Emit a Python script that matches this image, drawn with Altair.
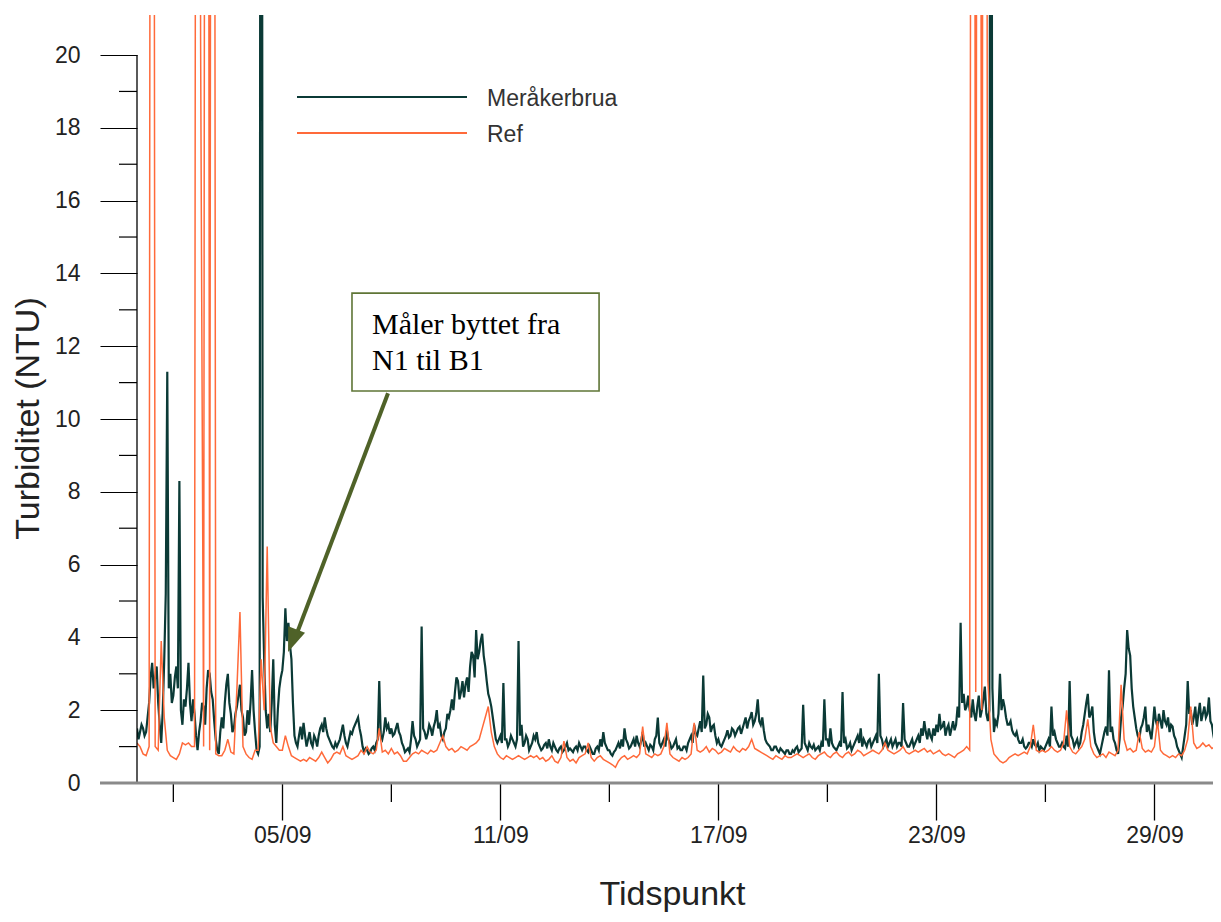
import altair as alt
import pandas as pd

# ---- data: turbidity (NTU) read from 1 Sep 00:00 ----
# Meråkerbrua at even hours (00, 02, ... 22), 12 per day
meraker_even = [
    1.5, 1.4, 1.5, 1.4, 2.2, 3.3, 2.9, 2.2, 1.1, 3.4, 11.3, 3.0,      # 01/09
    2.4, 3.2, 8.3, 1.6, 2.1, 3.3, 1.7, 1.9, 0.9, 1.7, 2.1, 2.6,       # 02/09
    3.0, 2.3, 1.2, 0.8, 1.8, 2.2, 3.0, 1.9, 1.5, 2.1, 2.7, 1.8,       # 03/09
    1.4, 1.6, 3.1, 1.4, 0.8, 60, 3.4, 1.5, 1.4, 3.4, 1.1, 2.6,        # 04/09
    3.1, 4.8, 4.4, 3.4, 1.3, 1.0, 1.55, 1.65, 1.0, 1.4, 1.0, 1.2,     # 05/09
    1.3, 1.6, 1.8, 1.3, 1.1, 0.95, 1.0, 1.2, 1.6, 1.1, 1.2, 1.35,     # 06/09
    1.6, 1.8, 1.3, 0.85, 0.9, 0.85, 1.0, 1.1, 2.8, 1.2, 1.8, 1.6,     # 07/09
    1.5, 1.35, 1.65, 1.3, 1.0, 0.9, 0.85, 1.7, 1.2, 1.1, 4.3, 1.4,    # 08/09
    1.35, 1.5, 1.55, 2.0, 1.6, 1.2, 1.5, 1.8, 2.3, 2.5, 2.8, 2.5,     # 09/09
    2.35, 2.9, 3.2, 3.5, 4.2, 3.6, 4.1, 3.2, 2.45, 2.1, 1.5, 1.1,     # 10/09
    1.3, 2.75, 1.2, 1.1, 1.2, 1.0, 3.9, 1.6, 1.1, 1.2, 1.0, 1.3,      # 11/09
    1.4, 1.0, 0.95, 1.1, 1.2, 0.9, 1.0, 0.85, 1.0, 0.9, 1.1, 0.95,    # 12/09
    0.85, 1.0, 1.1, 0.9, 1.0, 0.85, 0.9, 0.8, 1.0, 1.2, 1.4, 1.0,     # 13/09
    0.9, 0.75, 0.9, 1.1, 1.2, 1.5, 1.1, 1.0, 1.2, 1.3, 1.0, 1.4,      # 14/09
    1.1, 0.9, 1.0, 1.2, 1.8, 1.0, 1.2, 1.45, 1.1, 1.0, 1.2, 1.0,      # 15/09
    0.9, 1.0, 1.1, 1.3, 1.6, 1.3, 1.7, 2.95, 1.6, 1.8, 1.55, 1.3,     # 16/09
    1.2, 1.0, 1.2, 1.45, 1.3, 1.45, 1.4, 1.55, 1.5, 1.8, 1.7, 1.95,   # 17/09
    1.7, 2.3, 1.6, 1.45, 1.1, 1.0, 0.9, 1.0, 0.85, 0.9, 0.8, 0.9,     # 18/09
    0.8, 0.85, 1.0, 0.9, 2.15, 1.0, 1.1, 0.95, 0.9, 1.0, 1.1, 2.3,    # 19/09
    1.2, 1.5, 1.0, 0.9, 1.1, 2.5, 1.2, 1.0, 0.9, 1.1, 1.3, 1.5,       # 20/09
    1.2, 1.0, 1.2, 1.1, 1.3, 3.0, 1.2, 1.1, 1.0, 1.2, 1.1, 1.0,       # 21/09
    1.1, 2.2, 1.1, 1.0, 1.2, 1.1, 1.3, 1.5, 1.7, 1.2, 1.3, 1.5,       # 22/09
    1.6, 1.9, 1.55, 1.3, 1.6, 1.5, 1.45, 2.1, 4.4, 2.45, 2.1, 2.0,    # 23/09
    2.3, 1.7, 2.4, 2.0, 2.65, 1.7, 60, 1.4, 1.6, 3.0, 2.3, 1.8,       # 24/09
    1.6, 1.45, 1.3, 1.2, 1.1, 1.0, 1.0, 1.1, 1.2, 1.0, 0.9, 0.95,     # 25/09
    1.0, 1.2, 2.1, 1.4, 1.1, 1.0, 1.0, 1.3, 2.8, 1.2, 1.1, 1.0,       # 26/09
    1.4, 1.9, 2.45, 1.9, 1.4, 1.0, 0.8, 1.2, 1.55, 3.1, 1.55, 1.1,    # 27/09
    0.8, 1.8, 2.6, 4.2, 3.5, 2.1, 1.5, 1.2, 1.6, 2.1, 1.6, 1.2,       # 28/09
    2.1, 1.55, 1.7, 2.0, 1.6, 1.4, 1.55, 1.2, 0.9, 0.7, 1.3, 2.8,     # 29/09
    2.0, 1.8, 1.55, 2.2, 1.9, 1.8, 2.35, 1.6, 1.1, 1.7, 1.9,          # 30/09
]
# Meråkerbrua at odd hours (01, 03, ... 23)
meraker_odd = [
    1.2, 1.6, 1.3, 1.8, 2.9, 2.6, 3.2, 1.6, 2.0, 5.2, 2.6, 2.2,       # 01/09
    2.9, 2.6, 2.0, 2.3, 2.6, 2.2, 2.3, 1.3, 1.4, 2.2, 1.6, 3.1,       # 02/09
    2.5, 1.7, 0.9, 1.4, 1.5, 2.7, 2.2, 1.4, 1.9, 2.4, 2.0, 1.3,       # 03/09
    2.0, 2.2, 2.0, 0.9, 1.0, 5.1, 2.0, 1.9, 2.2, 1.6, 2.0, 2.9,       # 04/09
    3.6, 3.9, 3.8, 2.2, 1.1, 1.3, 1.2, 1.3, 1.2, 1.1, 1.3, 1.0,       # 05/09
    1.5, 1.4, 1.5, 1.2, 1.0, 1.1, 1.1, 1.4, 1.3, 1.0, 1.4, 1.5,       # 06/09
    1.7, 1.5, 1.0, 0.95, 0.8, 0.95, 0.9, 1.2, 1.3, 1.4, 1.5, 1.35,    # 07/09
    1.3, 1.5, 1.4, 1.1, 0.85, 0.95, 1.2, 1.3, 1.0, 1.2, 1.5, 1.2,     # 08/09
    1.6, 1.3, 1.7, 1.5, 1.3, 1.4, 1.9, 2.0, 2.0, 2.9, 2.3, 2.8,       # 09/09
    2.7, 2.5, 3.6, 2.9, 3.4, 3.9, 3.5, 2.8, 2.3, 1.8, 1.2, 1.2,       # 10/09
    1.1, 1.2, 1.0, 1.3, 1.1, 1.2, 1.3, 1.0, 1.3, 0.9, 1.1, 1.2,       # 11/09
    1.1, 0.9, 1.05, 0.95, 1.0, 1.1, 0.9, 0.95, 0.85, 1.0, 0.9, 0.9,   # 12/09
    0.95, 0.9, 1.0, 1.0, 0.9, 1.0, 0.8, 0.95, 0.9, 1.0, 1.1, 0.9,     # 13/09
    0.8, 0.85, 1.0, 0.95, 1.0, 1.2, 0.95, 1.1, 1.0, 1.1, 1.15, 1.0,   # 14/09
    1.0, 1.05, 0.9, 1.3, 1.1, 1.1, 1.0, 1.2, 0.95, 1.1, 0.95, 0.9,    # 15/09
    1.0, 0.9, 1.2, 1.1, 1.35, 1.5, 1.4, 1.5, 1.9, 1.4, 1.6, 1.1,      # 16/09
    1.05, 1.1, 1.3, 1.25, 1.5, 1.3, 1.5, 1.35, 1.65, 1.5, 1.8, 1.6,   # 17/09
    1.9, 1.7, 1.8, 1.2, 1.05, 0.9, 1.0, 0.9, 0.95, 0.85, 0.9, 0.8,    # 18/09
    0.9, 0.95, 0.85, 0.95, 1.1, 0.9, 1.0, 1.05, 0.95, 0.9, 1.0, 1.2,  # 19/09
    1.0, 1.1, 0.95, 1.0, 1.0, 1.1, 0.95, 1.1, 1.0, 1.2, 1.1, 1.0,     # 20/09
    1.1, 1.15, 1.0, 1.2, 1.1, 1.3, 1.0, 1.2, 1.1, 1.0, 1.2, 1.1,      # 21/09
    1.0, 1.2, 1.0, 1.1, 1.0, 1.2, 1.1, 1.3, 1.4, 1.5, 1.2, 1.3,       # 22/09
    1.4, 1.5, 1.7, 1.5, 1.3, 1.7, 1.6, 1.8, 2.2, 2.0, 2.4, 1.8,       # 23/09
    1.9, 2.1, 1.8, 2.3, 1.9, 2.0, 2.6, 1.7, 1.9, 2.0, 2.1, 1.6,       # 24/09
    1.7, 1.35, 1.4, 1.1, 1.2, 0.95, 1.1, 1.0, 1.05, 1.1, 1.0, 0.9,    # 25/09
    1.1, 1.0, 1.3, 1.2, 1.0, 1.1, 0.95, 1.0, 1.3, 1.0, 1.2, 1.1,      # 26/09
    1.6, 2.2, 1.8, 2.1, 1.1, 0.9, 1.0, 1.4, 1.3, 1.4, 1.2, 0.9,       # 27/09
    1.2, 2.1, 3.0, 3.7, 2.6, 1.8, 1.3, 1.5, 1.8, 1.4, 1.4, 1.6,       # 28/09
    1.7, 1.9, 1.5, 1.7, 1.8, 1.6, 1.3, 1.0, 0.8, 1.0, 1.6, 1.9,       # 29/09
    1.6, 2.1, 1.9, 1.7, 2.1, 1.9, 1.7, 1.3, 1.5, 1.4,                # 30/09
]
# Ref at even hours, 12 per day
ref = [
    1.1, 1.0, 0.8, 0.75, 1.0, 80, 1.0, 0.9, 3.9, 1.8, 0.9, 0.75,      # 01/09
    0.7, 0.65, 0.8, 1.1, 1.05, 1.1, 1.0, 1.0, 80, 20.5, 1.0, 80,      # 02/09
    0.9, 80, 0.8, 0.75, 0.75, 0.9, 1.2, 0.85, 0.8, 2.6, 4.7, 1.0,     # 03/09
    0.8, 0.7, 0.65, 0.9, 0.9, 3.4, 2.0, 6.5, 1.55, 1.1, 1.0, 0.9,     # 04/09
    0.9, 1.3, 1.0, 0.75, 0.7, 0.65, 0.6, 0.65, 0.6, 0.7, 0.65, 0.6,   # 05/09
    0.7, 0.85, 0.7, 0.55, 0.65, 0.8, 0.85, 0.8, 1.0, 0.75, 0.7, 0.65, # 06/09
    0.7, 0.75, 0.9, 0.8, 1.0, 0.85, 0.8, 0.9, 1.5, 0.85, 0.9, 0.8,    # 07/09
    0.95, 0.8, 0.85, 0.75, 0.6, 0.6, 0.7, 0.8, 0.85, 0.8, 0.9, 0.85,  # 08/09
    0.8, 0.9, 0.85, 0.9, 1.1, 1.3, 1.0, 0.9, 0.95, 0.85, 0.9, 1.0,    # 09/09
    0.95, 0.9, 1.0, 1.05, 1.1, 1.2, 1.5, 1.8, 2.1, 1.4, 1.0, 0.8,     # 10/09
    0.7, 0.65, 0.75, 0.7, 0.65, 0.7, 0.75, 0.7, 0.65, 0.7, 0.75, 0.7, # 11/09
    0.75, 0.65, 0.7, 0.6, 0.65, 0.75, 0.6, 0.55, 0.7, 1.15, 0.7, 0.6, # 12/09
    0.65, 0.55, 0.7, 0.75, 0.8, 1.1, 0.7, 0.6, 0.7, 0.75, 0.65, 0.6,  # 13/09
    0.55, 0.5, 0.43, 0.6, 0.7, 0.75, 0.65, 0.7, 0.75, 0.7, 0.8, 1.55, # 14/09
    0.8, 0.75, 0.7, 0.8, 0.75, 0.8, 1.0, 1.65, 0.8, 0.7, 0.65, 0.6,   # 15/09
    0.7, 0.65, 0.7, 0.8, 1.65, 0.9, 0.85, 0.9, 1.0, 0.85, 0.95, 0.9,  # 16/09
    0.8, 0.85, 0.95, 0.9, 0.85, 1.0, 0.9, 0.85, 0.95, 0.9, 1.0, 1.2,  # 17/09
    0.95, 0.9, 0.85, 0.8, 0.75, 0.7, 0.65, 0.75, 0.7, 0.65, 0.75, 0.7,# 18/09
    0.7, 0.75, 0.8, 0.75, 0.7, 0.75, 0.8, 0.7, 0.65, 0.75, 0.8, 0.85, # 19/09
    0.75, 0.7, 0.8, 0.85, 0.75, 0.7, 0.8, 0.85, 0.75, 0.8, 0.9, 0.85, # 20/09
    0.75, 0.8, 0.85, 0.9, 0.85, 0.8, 0.9, 1.1, 0.9, 0.85, 0.8, 0.85,  # 21/09
    0.9, 1.0, 0.85, 0.8, 0.85, 0.9, 0.85, 0.9, 0.95, 0.85, 0.9, 0.8,  # 22/09
    0.85, 0.9, 0.8, 0.75, 0.8, 0.75, 0.7, 0.8, 0.85, 0.9, 1.0, 0.9,   # 23/09
    80, 2.5, 80, 2.0, 80, 2.8, 1.2, 0.8, 0.7, 0.6, 0.55, 0.6,         # 24/09
    0.7, 0.75, 0.8, 0.75, 0.8, 0.85, 0.8, 1.0, 1.6, 0.9, 0.85, 0.9,   # 25/09
    0.85, 0.9, 1.0, 0.9, 0.85, 0.9, 1.1, 2.0, 1.0, 0.85, 0.8, 0.9,    # 26/09
    1.0, 1.2, 1.75, 1.0, 0.8, 0.7, 0.75, 0.8, 0.7, 0.85, 0.8, 0.75,   # 27/09
    0.9, 2.7, 1.2, 0.9, 0.95, 0.85, 0.9, 1.4, 0.95, 0.85, 0.9, 0.85,  # 28/09
    1.0, 1.7, 0.9, 0.8, 0.75, 0.7, 0.75, 0.7, 0.8, 0.75, 0.9, 1.2,    # 29/09
    2.1, 1.1, 0.95, 1.0, 1.1, 1.0, 1.05, 0.95, 1.0, 1.1, 1.0,         # 30/09
]

series_names = ["Meråkerbrua", "Ref"]
series_colors = ["#0b3a36", "#ff6a3a"]
major_tick_days = [5, 11, 17, 23, 29]
minor_tick_days = [2, 8, 14, 20, 26]
y_major_ticks = list(range(0, 21, 2))
y_minor_ticks = list(range(1, 20, 2))
annotation_lines = ["Måler byttet fra", "N1 til B1"]

# ---- helpers ----
START = pd.Timestamp("2013-09-01 00:00")
def iso(hours):
    return (START + pd.Timedelta(hours=hours)).strftime("%Y-%m-%dT%H:%M:%SZ")

def dt(day, hour=0, minute=0):
    return alt.DateTime(year=2013, month=9, date=day, hours=hour, minutes=minute, utc=True)

rows = []
for k, v in enumerate(meraker_even):
    rows.append({"h": 2 * k, "value": v, "series": series_names[0]})
for k, v in enumerate(meraker_odd):
    rows.append({"h": 2 * k + 1, "value": v, "series": series_names[0]})
for k, v in enumerate(ref):
    rows.append({"h": 2 * k, "value": v, "series": series_names[1]})
df = pd.DataFrame(rows).sort_values(["series", "h"]).reset_index(drop=True)
df["time"] = [iso(h) for h in df["h"]]

W, H = 1076, 768
FONT = "Liberation Sans"
xscale = alt.Scale(type="utc", domain=[dt(1), dt(30, 14, 42)])
yscale = alt.Scale(domain=[0, 21.1], nice=False, zero=False)
cscale = alt.Scale(domain=series_names, range=series_colors)

x_axis = alt.Axis(
    values=[dt(d) for d in major_tick_days], format="%d/%m", title="Tidspunkt",
    domain=False, grid=False, ticks=True, tickSize=37, tickColor="black", tickWidth=1.3,
    labelFont=FONT, labelFontSize=23, labelColor="#222", labelPadding=4,
    titleFont=FONT, titleFontSize=34, titleFontWeight="normal", titleColor="#222",
    titleX=535, titleY=121, titleBaseline="alphabetic",
)
y_axis = alt.Axis(
    values=y_major_ticks, title="Turbiditet (NTU)",
    domain=False, grid=False, ticks=True, tickSize=37, tickColor="black", tickWidth=1.2,
    labelFont=FONT, labelFontSize=23, labelColor="#222", labelPadding=20,
    titleFont=FONT, titleFontSize=34, titleFontWeight="normal", titleColor="#222",
    titleAngle=270, titleX=-109, titleY=403, titleAlign="center", titleBaseline="middle",
)

# axis carrier layer (only layer that defines axes)
axes_layer = alt.Chart(df).mark_line(opacity=0).encode(
    x=alt.X("time:T", scale=xscale, axis=x_axis),
    y=alt.Y("value:Q", scale=yscale, axis=y_axis),
    detail="series:N",
)

base = alt.Chart(df)
line_m = base.transform_filter(alt.datum.series == series_names[0]).mark_line(
    strokeWidth=2.2, clip=True).encode(
    x=alt.X("time:T"), y=alt.Y("value:Q"), order="h:Q",
    color=alt.Color("series:N", scale=cscale, legend=None),
)
line_r = base.transform_filter(alt.datum.series == series_names[1]).mark_line(
    strokeWidth=1.5, clip=True).encode(
    x=alt.X("time:T"), y=alt.Y("value:Q"), order="h:Q",
    color=alt.Color("series:N", scale=cscale, legend=None),
)

# minor ticks
xminor = alt.Chart(pd.DataFrame({"time": [iso(24 * (d - 1)) for d in minor_tick_days]})).mark_rule(
    color="black", strokeWidth=1.3).encode(
    x=alt.X("time:T"), y=alt.value(H), y2=alt.value(H + 19))
yminor = alt.Chart(pd.DataFrame({"value": y_minor_ticks})).mark_rule(
    color="black", strokeWidth=1.2).encode(
    y=alt.Y("value:Q"), x=alt.value(-18), x2=alt.value(0))

# axis lines
yline = alt.Chart(pd.DataFrame({"lo": [0], "hi": [20]})).mark_rule(color="black", strokeWidth=1.3).encode(
    y=alt.Y("lo:Q"), y2=alt.Y2("hi:Q"), x=alt.value(0))
xline = alt.Chart(pd.DataFrame({"a": [0]})).mark_rule(color="#8a8a8a", strokeWidth=3).encode(
    x=alt.value(-37), x2=alt.value(W), y=alt.value(H))

# legend (drawn by hand, inside the plot)
leg = []
for i, (name, col) in enumerate(zip(series_names, series_colors)):
    ly = 82 + 36 * i
    leg.append(alt.Chart(pd.DataFrame({"a": [0]})).mark_rule(color=col, strokeWidth=2).encode(
        x=alt.value(160), x2=alt.value(330), y=alt.value(ly)))
    leg.append(alt.Chart(pd.DataFrame({"a": [0]})).mark_text(
        text=name, font=FONT, fontSize=23, color="#333", align="left", baseline="middle").encode(
        x=alt.value(350), y=alt.value(ly + 2)))

# annotation box, text and arrow (in data coordinates)
box = alt.Chart(pd.DataFrame({"time": [iso(142.0)], "t2": [iso(305.2)], "value": [10.77], "v2": [13.46]})).mark_rect(
    fill="white", stroke="#5f7536", strokeWidth=1.6).encode(
    x=alt.X("time:T"), x2="t2:T", y=alt.Y("value:Q"), y2="v2:Q")
ann_text = alt.Chart(pd.DataFrame({"time": [iso(155.2)] * 2, "value": [12.34, 11.35], "s": annotation_lines})).mark_text(
    font="Liberation Serif", fontSize=30, color="black", align="left", baseline="alphabetic").encode(
    x=alt.X("time:T"), y=alt.Y("value:Q"), text="s:N")
arrow_line = alt.Chart(pd.DataFrame({"time": [iso(165.8)], "t2": [iso(103.7)], "value": [10.71], "v2": [3.9]})).mark_rule(
    color="#4f6228", strokeWidth=4).encode(
    x=alt.X("time:T"), x2="t2:T", y=alt.Y("value:Q"), y2="v2:Q")
arrow_head = alt.Chart(pd.DataFrame({"time": [iso(102.6)], "value": [3.91]})).mark_point(
    shape="M0,-1L0.75,1L-0.75,1Z", size=576, angle=201, filled=True, color="#4f6228", opacity=1).encode(
    x=alt.X("time:T"), y=alt.Y("value:Q"))

chart = alt.layer(
    axes_layer, line_m, line_r, xminor, yminor, yline, xline, *leg, box, ann_text, arrow_line, arrow_head
).properties(
    width=W, height=H,
    autosize=alt.AutoSizeParams(type="none"),
    padding={"left": 129, "top": 7, "right": 0, "bottom": 131},
    background="white",
).configure_view(stroke=None)

chart.save("out.html", embed_options={"renderer": "svg", "actions": False})
